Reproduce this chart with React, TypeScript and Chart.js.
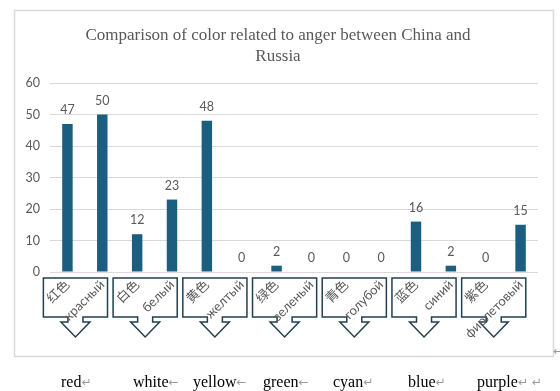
import React, { useEffect, useRef } from "react";
import { Chart, registerables } from "chart.js";

Chart.register(...registerables);

const titleLines = ["Comparison of color related to anger between China and", "Russia"];
const categories = ["红色", "красный", "白色", "белый", "黄色", "желтый", "绿色", "зеленый", "青色", "голубой", "蓝色", "синий", "紫色", "фиолетовый"];
const values = [47, 50, 12, 23, 48, 0, 2, 0, 0, 0, 16, 2, 0, 15];
const yTicks = [0, 10, 20, 30, 40, 50, 60];
const footerWords = ["red", "white", "yellow", "green", "cyan", "blue", "purple"];
const footerMarks = ["↵", "←", "←", "←", "↵", "↵", "↵ ↵"];
const footerX = [61, 133, 193, 263, 333, 408, 477];

const SANS = "Lato, 'Noto Sans CJK SC', sans-serif";
const SERIF = "'Liberation Serif', 'Times New Roman', serif";
const GRAY = "#595959";

export default function App() {
  const ref = useRef<HTMLCanvasElement>(null);

  useEffect(() => {
    if (!ref.current) return;
    const decor = {
      id: "decor",
      beforeDraw(chart: any) {
        const ctx = chart.ctx;
        ctx.save();
        ctx.fillStyle = "#ffffff";
        ctx.fillRect(0, 0, chart.width, chart.height);
        // frame
        ctx.strokeStyle = "#d9d9d9";
        ctx.lineWidth = 1.5;
        ctx.strokeRect(14.5, 10.5, 539, 346);
        // title
        ctx.fillStyle = GRAY;
        ctx.font = `17px ${SERIF}`;
        ctx.textAlign = "center";
        ctx.textBaseline = "alphabetic";
        ctx.fillText(titleLines[0], 278, 40);
        ctx.fillText(titleLines[1], 278, 61);
        // callouts
        const xs = chart.scales.x;
        const base = chart.chartArea.bottom;
        for (let k = 0; k < categories.length / 2; k++) {
          const p0 = xs.getPixelForValue(2 * k);
          const p1 = xs.getPixelForValue(2 * k + 1);
          const w = p1 - p0;
          const cx = (p0 + p1) / 2 - 0.27 * w;
          const hw = 0.92 * w;
          const top = base + 6;
          const bb = top + 39;
          const sb = bb + 5;
          const tip = bb + 20;
          ctx.beginPath();
          ctx.moveTo(cx - hw, top);
          ctx.lineTo(cx + hw, top);
          ctx.lineTo(cx + hw, bb);
          ctx.lineTo(cx + 7.5, bb);
          ctx.lineTo(cx + 7.5, sb);
          ctx.lineTo(cx + 14.5, sb);
          ctx.lineTo(cx, tip);
          ctx.lineTo(cx - 14.5, sb);
          ctx.lineTo(cx - 7.5, sb);
          ctx.lineTo(cx - 7.5, bb);
          ctx.lineTo(cx - hw, bb);
          ctx.closePath();
          ctx.fillStyle = "#ffffff";
          ctx.fill();
          ctx.strokeStyle = "#22404f";
          ctx.lineWidth = 1.5;
          ctx.stroke();
        }
        // footer
        ctx.textAlign = "left";
        for (let i = 0; i < footerWords.length; i++) {
          ctx.font = `16px ${SERIF}`;
          ctx.fillStyle = "#000000";
          ctx.fillText(footerWords[i], footerX[i], 387);
          const tw = ctx.measureText(footerWords[i]).width;
          ctx.font = `12px 'DejaVu Sans', sans-serif`;
          ctx.fillStyle = "#9a9a9a";
          ctx.fillText(footerMarks[i], footerX[i] + tw, 386);
        }
        ctx.fillText("↵", 553, 355);
        ctx.restore();
      },
      afterDatasetsDraw(chart: any) {
        const ctx = chart.ctx;
        const meta = chart.getDatasetMeta(0);
        ctx.save();
        ctx.fillStyle = GRAY;
        ctx.font = `12.5px ${SANS}`;
        ctx.textAlign = "center";
        ctx.textBaseline = "alphabetic";
        meta.data.forEach((bar: any, i: number) => {
          ctx.fillText(String(values[i]), bar.x, bar.y - 10);
        });
        ctx.restore();
      },
    };

    const chart = new Chart(ref.current, {
      type: "bar",
      data: {
        labels: categories,
        datasets: [
          {
            data: values,
            backgroundColor: "#1b5e80",
            barPercentage: 0.3,
            categoryPercentage: 1,
          },
        ],
      },
      options: {
        animation: false,
        responsive: false,
        devicePixelRatio: 1,
        layout: { padding: { top: 83, right: 22, left: 0, bottom: 0 } },
        plugins: {
          legend: { display: false },
          title: { display: false },
          tooltip: { enabled: false },
        },
        scales: {
          y: {
            min: 0,
            max: 60,
            afterBuildTicks: (s: any) => {
              s.ticks = yTicks.map((v) => ({ value: v }));
            },
            afterFit: (s: any) => {
              s.width = 50;
            },
            ticks: { color: GRAY, font: { family: SANS, size: 12.5 }, padding: 10 },
            grid: { color: "#d9d9d9", drawTicks: false },
            border: { display: false },
          },
          x: {
            afterFit: (s: any) => {
              s.height = 119;
            },
            ticks: {
              autoSkip: false,
              minRotation: 45,
              maxRotation: 45,
              color: GRAY,
              font: { family: SANS, size: 13 },
              padding: 5,
            },
            grid: { display: false, drawTicks: false },
            border: { display: false },
          },
        },
      },
      plugins: [decor],
    } as any);
    return () => chart.destroy();
  }, []);

  return (
    <div style={{ position: "absolute", left: 0, top: 0, width: 560, height: 391 }}>
      <canvas ref={ref} width={560} height={391} style={{ width: 560, height: 391, display: "block" }} />
    </div>
  );
}
